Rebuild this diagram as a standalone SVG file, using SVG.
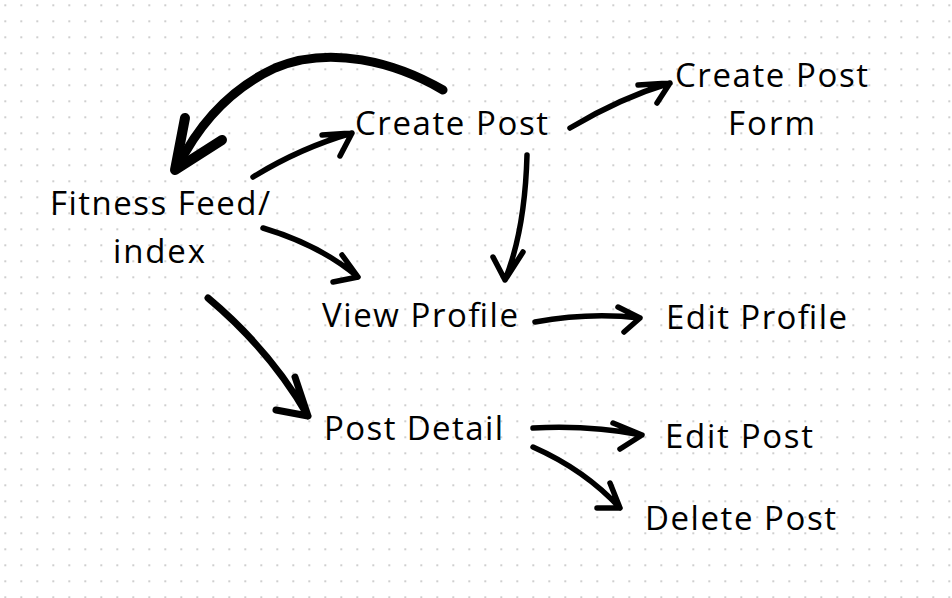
<svg xmlns="http://www.w3.org/2000/svg" width="952" height="598" viewBox="0 0 952 598">
<style>
.t{font-family:"Open Sans","Liberation Sans",sans-serif;font-size:33px;fill:#000;}
.c{fill:none;stroke:#000;stroke-width:5.5;stroke-linecap:round;stroke-linejoin:round;}
</style>
<defs>
<pattern id="dots" width="16" height="16" patternUnits="userSpaceOnUse">
<rect x="4.3" y="4.3" width="2" height="2" fill="#cfcfcf"/>
</pattern>
</defs>
<rect width="952" height="598" fill="#fff"/>
<rect width="952" height="598" fill="url(#dots)"/>
<g id="connectors">
<path class="c" style="stroke-width:9" d="M443,90 C395,62 330,45 275,68 C232,88 200,122 178,166"/>
<path class="c" style="stroke-width:10" d="M185,118 L175,170 L222,140"/>
<path class="c" d="M253,177 Q300,148 352,133 M322,135 L352,133 L340,156"/>
<path class="c" d="M263,228 Q320,245 358,277 M342,255 L358,277 L333,282"/>
<path class="c" style="stroke-width:7" d="M208,298 Q270,350 308,416 M295,377 L308,416 L276,410"/>
<path class="c" d="M570,128 Q620,98 670,83 M638,85 L670,83 L657,103"/>
<path class="c" d="M527,155 Q525,230 505,280 M493,257 L505,280 L523,252"/>
<path class="c" d="M535,322 Q590,312 640,318 M618,307 L640,318 L624,332"/>
<path class="c" d="M533,428 Q590,425 642,435 M613,423 L642,435 L620,449"/>
<path class="c" d="M533,447 Q585,470 620,508 M610,483 L620,508 L597,508"/>
</g>
<g id="fitness-feed"><text class="t" x="50" y="215" textLength="220">Fitness Feed/</text><text class="t" x="113" y="263" textLength="92">index</text></g>
<g id="create-post"><text class="t" x="355" y="135" textLength="193">Create Post</text></g>
<g id="create-post-form"><text class="t" x="675" y="87" textLength="193">Create Post</text><text class="t" x="728" y="135" textLength="87">Form</text></g>
<g id="view-profile"><text class="t" x="322" y="327" textLength="196">View Profile</text></g>
<g id="edit-profile"><text class="t" x="666" y="329" textLength="181">Edit Profile</text></g>
<g id="post-detail"><text class="t" x="324" y="440" textLength="179">Post Detail</text></g>
<g id="edit-post"><text class="t" x="665" y="448" textLength="148">Edit Post</text></g>
<g id="delete-post"><text class="t" x="645" y="530" textLength="191">Delete Post</text></g>
</svg>
